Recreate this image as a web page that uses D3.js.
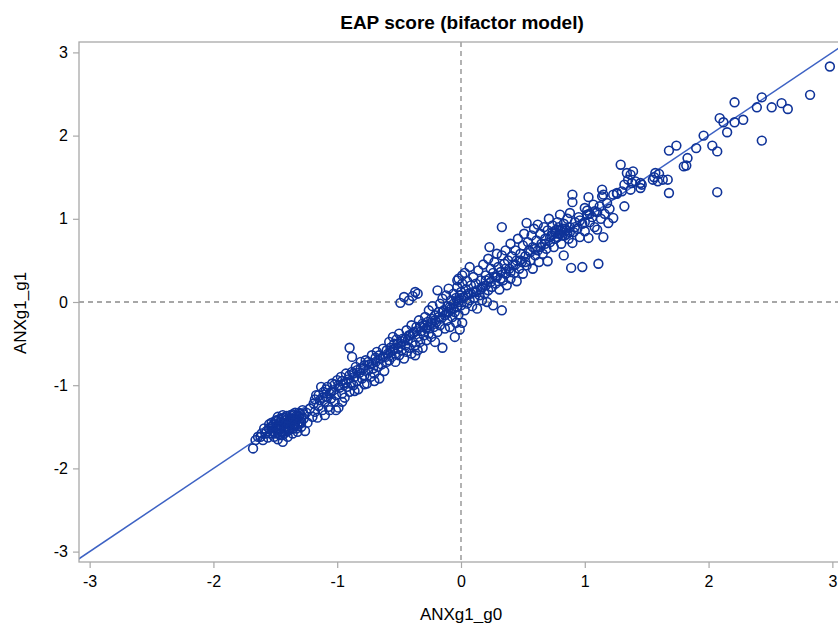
<!DOCTYPE html>
<html>
<head>
<meta charset="utf-8">
<script src="https://cdn.jsdelivr.net/npm/d3@7"></script>
<style>
  body { margin: 0; background: #fff; overflow: hidden; }
  text { font-family: "Liberation Sans", Arial, sans-serif; fill: #000; }
</style>
</head>
<body>
<div id="chart"></div>
<script>
// chart text
var title = "EAP score (bifactor model)";
var xLabel = "ANXg1_g0";
var yLabel = "ANXg1_g1";
var tickValues = [-3, -2, -1, 0, 1, 2, 3];

// scores, as [ANXg1_g0, ANXg1_g1]
var lowCluster = [
  [-1.68,-1.76],[-1.66,-1.66],[-1.62,-1.62],[-1.60,-1.66],[-1.58,-1.58],[-1.56,-1.63],[-1.55,-1.52],[-1.54,-1.58],
  [-1.53,-1.45],[-1.52,-1.55],[-1.51,-1.62],[-1.50,-1.50],[-1.49,-1.42],[-1.48,-1.57],[-1.47,-1.47],[-1.46,-1.53],
  [-1.45,-1.40],[-1.44,-1.60],[-1.43,-1.45],[-1.42,-1.50],[-1.41,-1.37],[-1.40,-1.55],[-1.39,-1.43],[-1.38,-1.48],
  [-1.37,-1.40],[-1.36,-1.52],[-1.35,-1.36],[-1.34,-1.45],[-1.33,-1.41],[-1.32,-1.49],[-1.31,-1.38],[-1.30,-1.34],
  [-1.29,-1.44],[-1.28,-1.30],[-1.27,-1.40],[-1.26,-1.55],[-1.25,-1.33],[-1.24,-1.45],[-1.22,-1.28],[-1.20,-1.38],
  [-1.48,-1.65],[-1.44,-1.68],[-1.40,-1.62],[-1.36,-1.58],[-1.52,-1.48],[-1.50,-1.43],[-1.46,-1.44],[-1.42,-1.42],
  [-1.38,-1.36],[-1.34,-1.33],[-1.57,-1.55],[-1.43,-1.55],[-1.39,-1.51],[-1.35,-1.47],[-1.31,-1.44],[-1.47,-1.52],
  [-1.41,-1.46],[-1.33,-1.52],[-1.29,-1.50],[-1.45,-1.48],[-1.32,-1.56],[-1.16,-1.39],
  [-1.53,-1.50],[-1.51,-1.47],[-1.49,-1.53],[-1.47,-1.41],[-1.45,-1.56],[-1.43,-1.39],[-1.41,-1.52],[-1.39,-1.47],
  [-1.37,-1.44],[-1.35,-1.41],[-1.33,-1.37],[-1.31,-1.33],[-1.29,-1.39],[-1.27,-1.35],[-1.50,-1.58],[-1.46,-1.60],
  [-1.42,-1.57],[-1.38,-1.53],[-1.34,-1.49],[-1.30,-1.46],[-1.55,-1.47],[-1.48,-1.38],[-1.44,-1.36],[-1.40,-1.40],
  [-1.36,-1.35],[-1.59,-1.52],[-1.61,-1.58],[-1.64,-1.62]
];

var lowerBand = [
  [-1.19,-1.22],[-1.18,-1.32],[-1.17,-1.12],[-1.15,-1.25],[-1.14,-1.18],[-1.12,-1.30],[-1.11,-1.08],[-1.10,-1.20],
  [-1.09,-1.14],[-1.08,-1.02],[-1.07,-1.26],[-1.06,-1.10],[-1.05,-1.16],[-1.04,-0.98],[-1.03,-1.06],[-1.02,-1.20],
  [-1.01,-1.12],[-1.00,-0.94],[-0.99,-1.27],[-0.98,-1.03],[-0.97,-0.90],[-0.96,-1.10],[-0.95,-0.98],[-0.94,-1.15],
  [-0.93,-0.86],[-0.92,-1.02],[-0.91,-0.93],[-0.90,-0.55],[-0.90,-1.08],[-0.89,-0.97],[-0.88,-0.66],[-0.88,-0.84],
  [-0.87,-1.00],[-0.86,-0.90],[-0.85,-0.78],[-0.84,-0.95],[-0.83,-1.05],[-0.82,-0.85],[-0.81,-0.72],[-0.80,-0.92],
  [-0.79,-0.80],[-0.78,-0.88],[-0.77,-0.70],[-0.76,-0.98],[-0.75,-0.82],[-0.74,-0.75],[-0.73,-0.90],[-0.72,-0.64],
  [-0.71,-0.80],[-0.70,-0.86],[-0.69,-0.72],[-0.68,-0.60],[-0.67,-0.78],[-0.66,-0.92],[-0.65,-0.68],[-0.64,-0.75],
  [-0.63,-0.56],[-0.62,-0.83],[-0.61,-0.66],[-0.60,-0.72],[-1.13,-1.02],[-1.06,-1.30],[-0.96,-1.20],[-0.86,-1.07],
  [-0.78,-0.99],[-0.70,-0.95],[-1.10,-1.36],[-1.01,-1.30],
  [-1.18,-1.17],[-1.15,-1.12],[-1.12,-1.15],[-1.09,-1.05],[-1.05,-1.08],[-1.02,-0.99],[-0.99,-1.00],[-0.96,-0.95],
  [-0.93,-0.97],[-0.90,-0.88],[-0.87,-0.86],[-0.84,-0.82],[-0.81,-0.80],[-0.78,-0.76],[-0.75,-0.72],[-0.72,-0.74],
  [-0.69,-0.67],[-0.66,-0.64],[-0.63,-0.66],[-0.60,-0.58]
];

var middleBand = [
  [-0.59,-0.62],[-0.58,-0.48],[-0.58,-0.70],[-0.57,-0.55],[-0.56,-0.66],[-0.55,-0.42],[-0.55,-0.58],[-0.54,-0.50],
  [-0.53,-0.72],[-0.53,-0.62],[-0.52,-0.45],[-0.51,-0.56],[-0.50,-0.38],[-0.50,-0.64],[-0.49,-0.50],[-0.49,-0.01],
  [-0.48,-0.58],[-0.47,-0.44],[-0.46,0.06],[-0.46,-0.68],[-0.45,-0.52],[-0.44,-0.34],[-0.44,-0.60],[-0.43,-0.46],
  [-0.42,0.02],[-0.42,-0.55],[-0.41,-0.40],[-0.40,-0.28],[-0.40,-0.62],[-0.39,0.07],[-0.39,-0.48],[-0.38,-0.36],
  [-0.37,0.12],[-0.37,-0.64],[-0.37,-0.52],[-0.36,-0.30],[-0.35,0.10],[-0.35,-0.58],[-0.35,-0.42],[-0.34,-0.22],
  [-0.33,-0.48],[-0.32,-0.35],[-0.31,-0.26],[-0.31,-0.55],[-0.30,-0.40],[-0.29,-0.18],[-0.28,-0.32],[-0.28,-0.46],
  [-0.27,-0.24],[-0.26,-0.10],[-0.26,-0.38],[-0.25,-0.28],[-0.24,-0.20],[-0.24,-0.42],[-0.23,-0.05],[-0.22,-0.30],
  [-0.21,-0.48],[-0.21,-0.16],[-0.20,-0.24],[-0.19,0.14],[-0.19,-0.36],[-0.18,-0.12],[-0.17,-0.02],[-0.17,-0.28],
  [-0.16,-0.20],[-0.15,-0.55],[-0.15,0.04],[-0.14,-0.10],[-0.13,-0.32],[-0.13,-0.16],[-0.12,0.08],[-0.11,-0.05],
  [-0.11,-0.22],[-0.10,0.16],[-0.10,-0.12],[-0.09,-0.30],[-0.08,0.02],[-0.08,-0.08],[-0.07,-0.18],[-0.06,0.10],
  [-0.06,-0.02],[-0.05,-0.42],[-0.05,-0.12],[-0.04,0.05],[-0.04,-0.25],[-0.03,0.18],[-0.03,-0.06],[-0.02,0.00],
  [-0.02,-0.15],[-0.01,0.08],[-0.01,-0.33],[0.00,0.12],[0.00,-0.04],[0.01,-0.25],[0.01,0.22],[-0.02,0.28],
  [-0.03,0.26],[0.01,0.32],
  [-0.57,-0.60],[-0.54,-0.56],[-0.51,-0.50],[-0.48,-0.47],[-0.45,-0.44],[-0.42,-0.40],[-0.39,-0.38],[-0.36,-0.35],
  [-0.33,-0.30],[-0.30,-0.28],[-0.27,-0.30],[-0.24,-0.25],[-0.21,-0.22],[-0.18,-0.18],[-0.15,-0.12],[-0.12,-0.14],
  [-0.09,-0.06],[-0.06,-0.08],[-0.03,0.02],[0.00,0.05]
];

var upperBand = [
  [0.02,0.05],[0.03,0.35],[0.03,-0.10],[0.04,0.15],[0.05,0.25],[0.05,-0.02],[0.06,0.10],[0.07,0.42],
  [0.07,0.02],[0.08,0.20],[0.09,-0.05],[0.10,0.12],[0.10,0.30],[0.11,0.05],[0.12,0.22],[0.13,-0.08],
  [0.13,0.14],[0.14,0.38],[0.15,0.08],[0.16,0.26],[0.17,0.02],[0.17,0.18],[0.18,0.45],[0.19,0.10],
  [0.20,0.32],[0.20,0.20],[0.21,0.00],[0.22,0.52],[0.22,0.14],[0.23,0.66],[0.23,0.28],[0.24,0.40],
  [0.25,0.18],[0.26,-0.04],[0.26,0.35],[0.27,0.48],[0.28,0.22],[0.29,0.58],[0.29,0.30],[0.30,0.42],
  [0.31,0.15],[0.32,0.36],[0.33,0.90],[0.33,0.56],[0.33,-0.10],[0.34,0.26],[0.35,0.46],[0.36,0.62],
  [0.36,0.34],[0.37,0.20],[0.38,0.50],[0.39,0.40],[0.40,0.70],[0.40,0.28],[0.41,0.55],[0.42,0.44],
  [0.43,0.35],[0.44,0.62],[0.45,0.50],[0.45,0.25],[0.46,0.76],[0.47,0.40],[0.48,0.58],[0.49,0.48],
  [0.50,0.68],[0.50,0.34],[0.51,0.82],[0.52,0.55],[0.53,0.95],[0.53,0.44],[0.54,0.72],[0.55,0.62],
  [0.56,0.50],[0.57,0.80],[0.58,0.66],[0.58,0.40],[0.59,0.88],[0.60,0.56],[0.61,0.74],[0.62,0.93],
  [0.62,0.62],[0.63,0.48],[0.64,0.82],[0.65,0.70],[0.66,0.58],[0.67,0.90],[0.68,0.76],[0.69,0.64],
  [0.70,0.49],[0.70,0.86],[0.71,1.00],[0.72,0.72],[0.73,0.80],[0.74,0.92],[0.75,0.66],[0.76,0.84],
  [0.77,0.87],[0.78,0.78],[0.78,0.96],[0.79,0.90],[0.80,1.05],[0.80,0.82],[0.81,0.70],[0.82,0.88],
  [0.83,0.56],[0.83,0.94],[0.84,0.80],[0.85,0.86],[0.86,1.00],[0.87,0.76],[0.88,1.07],[0.88,0.90],
  [0.89,0.41],[0.90,1.29],[0.90,1.20],[0.90,0.71],[0.91,0.84],[0.92,0.96],[0.94,0.88],[0.95,1.02],
  [0.96,0.78],[0.98,0.42],[0.98,0.94],[1.00,1.13],[1.00,0.85],[1.02,1.05],[1.02,1.10],[1.03,0.77],
  [1.03,1.26],[1.04,0.96],[1.06,1.02],[1.07,1.17],[1.08,0.90],[1.10,0.87],[1.10,1.08],[1.11,0.46],
  [1.12,1.15],[1.13,1.00],[1.14,1.35],[1.14,1.27],[1.15,0.78],[1.15,1.29],[1.16,1.06],[1.18,1.19],
  [1.19,0.95],[1.20,1.12],[1.08,1.09],[1.02,1.05],
  [0.04,0.08],[0.08,0.10],[0.12,0.12],[0.16,0.15],[0.20,0.26],[0.24,0.24],[0.28,0.30],[0.32,0.28],
  [0.36,0.40],[0.40,0.36],[0.44,0.45],[0.48,0.50],[0.52,0.48],[0.56,0.60],[0.60,0.64],[0.64,0.66],
  [0.68,0.70],[0.72,0.78],[0.76,0.76],[0.80,0.86],[0.84,0.88],[0.88,0.84],[0.92,0.90],[0.96,0.98],
  [1.00,0.96],[1.04,1.06],[0.74,0.84],[0.79,0.82],[0.82,0.80],[0.86,0.82]
];

var topTail = [
  [1.23,1.01],[1.23,1.29],[1.26,1.30],[1.26,1.31],[1.30,1.33],[1.32,1.41],[1.32,1.15],[1.29,1.65],
  [1.34,1.55],[1.37,1.53],[1.39,1.57],[1.35,1.47],[1.38,1.43],[1.41,1.45],[1.37,1.35],[1.45,1.37],
  [1.46,1.41],[1.45,1.43],[1.55,1.47],[1.57,1.55],[1.60,1.54],[1.56,1.50],[1.63,1.47],[1.67,1.47],
  [1.59,1.45],[1.68,1.82],[1.74,1.88],[1.83,1.73],[1.80,1.63],[1.82,1.64],[1.68,1.31],[2.07,1.32],
  [1.90,1.85],[1.96,2.00],[2.03,1.88],[2.07,1.81],[2.09,2.21],[2.12,2.16],[2.15,2.04],[2.21,2.16],
  [2.21,2.40],[2.28,2.19],[2.39,2.34],[2.43,2.46],[2.43,1.94],[2.51,2.34],[2.59,2.39],[2.64,2.32],
  [2.82,2.49],[2.98,2.83]
];

var allPoints = lowCluster.concat(lowerBand, middleBand, upperBand, topTail);

// svg container
var svgWidth = 838;
var svgHeight = 623;

// plot frame (right side runs past the window edge, as in the picture)
var margin = { top: 42, right: -5, bottom: 61, left: 79 };
var width = svgWidth - margin.left - margin.right;
var height = svgHeight - margin.top - margin.bottom;

var svg = d3.select("#chart")
  .append("svg")
  .attr("width", svgWidth)
  .attr("height", svgHeight);

var chartGroup = svg.append("g")
  .attr("transform", `translate(${margin.left}, ${margin.top})`);

var xScale = d3.scaleLinear().domain([-3.086, 3.086]).range([0, width]);
var yScale = d3.scaleLinear().domain([-3.125, 3.125]).range([height, 0]);

svg.append("defs").append("clipPath")
  .attr("id", "plotClip")
  .append("rect")
  .attr("width", width)
  .attr("height", height);

// axes (plain hyphen for negatives, like the original)
var bottomAxis = d3.axisBottom(xScale).tickValues(tickValues).tickSize(6).tickPadding(8).tickFormat(d => String(d));
var leftAxis = d3.axisLeft(yScale).tickValues(tickValues).tickSize(6).tickPadding(5).tickFormat(d => String(d));

var xAxisG = chartGroup.append("g")
  .attr("transform", `translate(0, ${height})`)
  .call(bottomAxis);

var yAxisG = chartGroup.append("g")
  .call(leftAxis);

[xAxisG, yAxisG].forEach(function(g) {
  g.select(".domain").remove();
  g.selectAll(".tick line").attr("stroke", "#a8a8a8").attr("stroke-width", 1.2);
  g.selectAll(".tick text")
    .style("font-family", "'Liberation Sans', Arial, sans-serif")
    .style("font-size", "16px")
    .attr("fill", "#000");
});

var plot = chartGroup.append("g").attr("clip-path", "url(#plotClip)");

// reference lines at 0
plot.append("line")
  .attr("x1", xScale(0)).attr("x2", xScale(0))
  .attr("y1", 0).attr("y2", height)
  .attr("stroke", "#8a8a8a")
  .attr("stroke-width", 1.3)
  .attr("stroke-dasharray", "5,4");

plot.append("line")
  .attr("x1", 0).attr("x2", width)
  .attr("y1", yScale(0)).attr("y2", yScale(0))
  .attr("stroke", "#8a8a8a")
  .attr("stroke-width", 1.3)
  .attr("stroke-dasharray", "5,4");

// identity line
plot.append("line")
  .attr("x1", xScale(-3.2)).attr("y1", yScale(-3.2))
  .attr("x2", xScale(3.2)).attr("y2", yScale(3.2))
  .attr("stroke", "#3d62c4")
  .attr("stroke-width", 1.5);

// circles
plot.selectAll("circle")
  .data(allPoints)
  .enter()
  .append("circle")
  .attr("cx", d => xScale(d[0]))
  .attr("cy", d => yScale(d[1]))
  .attr("r", 4.4)
  .attr("fill", "none")
  .attr("stroke", "#0f3399")
  .attr("stroke-width", 1.6);

// frame
chartGroup.append("rect")
  .attr("width", width)
  .attr("height", height)
  .attr("fill", "none")
  .attr("stroke", "#a8a8a8")
  .attr("stroke-width", 1.3);

// titles
svg.append("text")
  .attr("x", 462)
  .attr("y", 29)
  .attr("text-anchor", "middle")
  .style("font-size", "19px")
  .style("font-weight", "bold")
  .text(title);

svg.append("text")
  .attr("x", 461)
  .attr("y", 620)
  .attr("text-anchor", "middle")
  .style("font-size", "17px")
  .text(xLabel);

svg.append("text")
  .attr("transform", "translate(26, 313) rotate(-90)")
  .attr("text-anchor", "middle")
  .style("font-size", "17px")
  .text(yLabel);
</script>
</body>
</html>
